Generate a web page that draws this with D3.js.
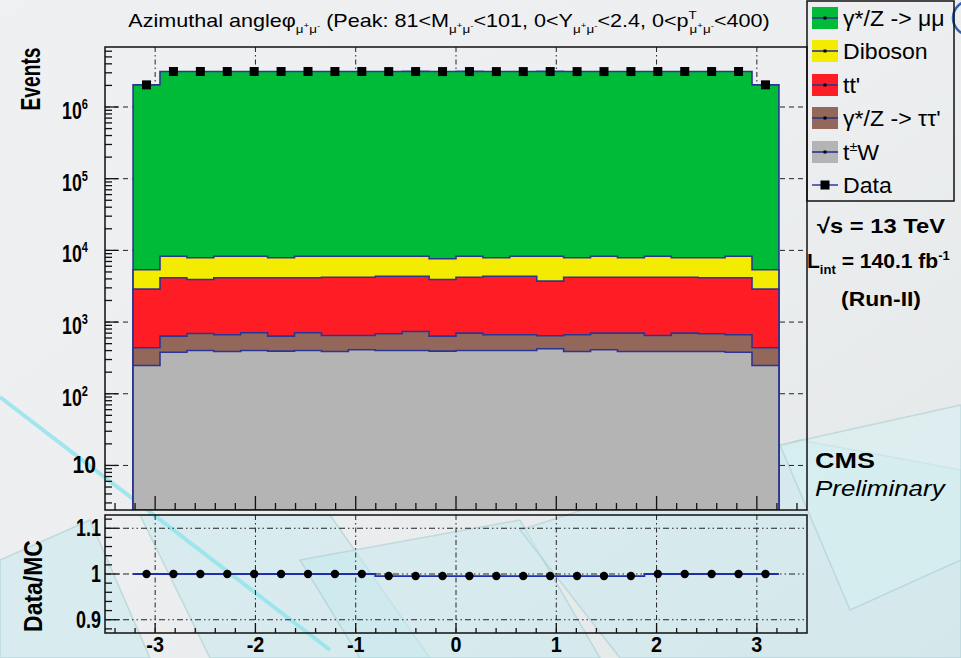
<!DOCTYPE html>
<html>
<head>
<meta charset="utf-8">
<script src="https://cdn.jsdelivr.net/npm/d3@7"></script>
<style>
  html, body { margin: 0; padding: 0; background: #ecedef; }
  svg { display: block; }
</style>
</head>
<body>
<script>
// ---- Data: dimuon azimuthal angle, stacked MC + data, 24 bins ----
const phiRange = [-3.22, 3.22];
const nBins = 24;

const tW = [248, 380, 402, 389, 402, 393, 402, 389, 411, 402, 402, 393,
            402, 402, 402, 424, 389, 411, 389, 389, 389, 389, 380, 248];
const zTauTau = [190, 256, 292, 276, 307, 243, 307, 261, 239, 285, 337, 243,
                 298, 263, 263, 220, 276, 289, 311, 261, 311, 298, 285, 190];
const ttbar = [2439, 3514, 3233, 3485, 3441, 3514, 3441, 3578, 3578, 3678, 3626, 3291,
               3528, 3700, 3700, 3076, 3563, 3528, 3528, 3578, 3528, 3463, 3485, 2439];
const diboson = [2483, 4150, 3963, 4150, 4150, 3740, 4150, 4072, 4072, 3935, 3935, 3713,
                 4072, 3525, 3935, 4580, 3662, 4072, 3662, 4072, 3662, 3740, 4150, 2483];
const zMuMu = [2030000, 3118000, 3121000, 3116000, 3120000, 3119000, 3122000, 3117000,
               3121000, 3125000, 3128000, 3126000, 3127000, 3124000, 3126000, 3128000,
               3125000, 3123000, 3127000, 3118000, 3120000, 3117000, 3119000, 2032000];
const dataEvents = [2035400, 3126300, 3128900, 3124300, 3128300, 3126900, 3130300, 3125300,
                    3129300, 3119200, 3122200, 3119500, 3121200, 3117800, 3120200, 3122200,
                    3118800, 3117200, 3120800, 3126300, 3127900, 3124900, 3127300, 2037400];

const legendLabels = ["γ*/Z -> μμ", "Diboson", "tt'", "γ*/Z -> ττ'", "tW", "Data"];
const xTickValues = [-3, -2, -1, 0, 1, 2, 3];
const ratioTickValues = [0.9, 1, 1.1];
const logDecades = [1, 2, 3, 4, 5, 6];

// ---- Layout ----
const W = 961, H = 658;
const FONT = "'Liberation Sans', Arial, Helvetica, sans-serif";
const frame = { left: 105, right: 807, top: 47, bottom: 510 };
const rframe = { left: 105, right: 807, top: 515, bottom: 633 };
const C = {
  zmumu: "#00bb38", diboson: "#f4ec00", ttbar: "#fe1d24",
  ztautau: "#93685a", tw: "#b4b4b4", outline: "#2b3593"
};

const svg = d3.select("body").append("svg").attr("width", W).attr("height", H);

// ---- Backdrop ----
const defs = svg.append("defs");
const bgGrad = defs.append("linearGradient").attr("id", "bg")
  .attr("x1", 0).attr("y1", 0).attr("x2", 1).attr("y2", 1);
bgGrad.append("stop").attr("offset", 0).attr("stop-color", "#eef0f1");
bgGrad.append("stop").attr("offset", 0.5).attr("stop-color", "#eceeef");
bgGrad.append("stop").attr("offset", 1).attr("stop-color", "#e3e7e8");
svg.append("rect").attr("width", W).attr("height", H).attr("fill", "url(#bg)");

const deco = svg.append("g");
const panels = [
  [[140, 515], [330, 515], [430, 658], [210, 658]],
  [[300, 560], [520, 520], [600, 658], [360, 658]],
  [[520, 530], [800, 440], [961, 470], [961, 658], [620, 658]],
  [[780, 445], [961, 405], [961, 560], [850, 610]],
  [[0, 560], [90, 520], [150, 658], [0, 658]]
];
panels.forEach((p, i) => {
  deco.append("path").attr("d", d3.line()(p) + "Z")
    .attr("fill", i === 3 ? "#d7f1f3" : "#c9eaee").attr("fill-opacity", 0.55)
    .attr("stroke", "#a9cdd1").attr("stroke-opacity", 0.6).attr("stroke-width", 1.5);
});
deco.append("line").attr("x1", 0).attr("y1", 397).attr("x2", 330).attr("y2", 650)
  .attr("stroke", "#8fe3ec").attr("stroke-width", 4).attr("stroke-opacity", 0.8);
deco.append("circle").attr("cx", 970).attr("cy", 18).attr("r", 17)
  .attr("fill", "none").attr("stroke", "#2d63b0").attr("stroke-width", 2.5);

// ---- Scales ----
const x = d3.scaleLinear().domain([-3.5, 3.5]).range([frame.left, frame.right]);
const y = d3.scaleLog().domain([2.39, 6.87e6]).range([frame.bottom, frame.top]);
const yr = d3.scaleLinear().domain([0.871, 1.129]).range([rframe.bottom, rframe.top]);

const binW = (phiRange[1] - phiRange[0]) / nBins;
const edges = d3.range(nBins + 1).map(i => phiRange[0] + i * binW);
const centers = d3.range(nBins).map(i => phiRange[0] + (i + 0.5) * binW);

// stack order bottom -> top
const layers = [
  { key: "tw", vals: tW },
  { key: "ztautau", vals: zTauTau },
  { key: "ttbar", vals: ttbar },
  { key: "diboson", vals: diboson },
  { key: "zmumu", vals: zMuMu }
];
let run = new Array(nBins).fill(0);
layers.forEach(l => {
  run = run.map((v, i) => v + l.vals[i]);
  l.cum = run.slice();
});
const mcTotal = layers[layers.length - 1].cum;
const ratio = dataEvents.map((d, i) => d / mcTotal[i]);

// ---- Text helper (supports sub/superscript runs) ----
function richText(parent, px, py, runs, o) {
  const g = parent.append("g");
  const t = g.append("text")
    .attr("text-anchor", o.anchor || "start")
    .style("font-family", FONT)
    .style("font-size", o.size + "px")
    .style("font-weight", o.weight || "normal")
    .style("font-style", o.style || "normal")
    .attr("fill", "#000");
  const S = o.size;
  const lv = {
    n: [0, 1], s: [0.32, 0.62], ss: [0.08, 0.45], p: [-0.42, 0.62]
  };
  let cur = 0;
  runs.forEach(r => {
    const [off, sc] = lv[r[1] || "n"];
    const ts = t.append("tspan").attr("dy", (off - cur) * S)
      .style("font-size", (S * sc) + "px").text(r[0]);
    if (r[2]) ts.attr("dx", r[2]);
    cur = off;
  });
  let sx = o.sx || 1;
  if (o.fitW) sx = o.fitW / t.node().getBBox().width;
  g.attr("transform", `translate(${px},${py}) rotate(${o.rotate || 0}) scale(${sx},1)`);
  return t;
}

// ---- Main panel ----
const main = svg.append("g");
defs.append("clipPath").attr("id", "clipMain").append("rect")
  .attr("x", frame.left).attr("y", frame.top)
  .attr("width", frame.right - frame.left).attr("height", frame.bottom - frame.top);

// grid
const grid = main.append("g").attr("stroke", "#222").attr("stroke-width", 1);
xTickValues.forEach(v => grid.append("line")
  .attr("x1", x(v)).attr("x2", x(v)).attr("y1", frame.top).attr("y2", frame.bottom)
  .attr("stroke-dasharray", "5,3,1.5,3"));
logDecades.forEach(n => grid.append("line")
  .attr("x1", frame.left).attr("x2", frame.right)
  .attr("y1", y(Math.pow(10, n))).attr("y2", y(Math.pow(10, n)))
  .attr("stroke-dasharray", "5,4"));

// stacked histograms, drawn top of stack first
const stepArea = d3.area()
  .x(d => x(d[0])).y0(frame.bottom).y1(d => y(d[1]))
  .curve(d3.curveStepAfter);
const histG = main.append("g").attr("clip-path", "url(#clipMain)");
layers.slice().reverse().forEach(l => {
  const pts = edges.map((e, i) => [e, l.cum[Math.min(i, nBins - 1)]]);
  histG.append("path").attr("d", stepArea(pts))
    .attr("fill", C[l.key]).attr("stroke", C.outline).attr("stroke-width", 1.6);
});

// data markers
histG.selectAll("rect.data").data(dataEvents).join("rect")
  .attr("x", (d, i) => x(centers[i]) - 4.5).attr("y", d => y(d) - 4.5)
  .attr("width", 9).attr("height", 9).attr("fill", "#000");

// frame
main.append("rect").attr("x", frame.left).attr("y", frame.top)
  .attr("width", frame.right - frame.left).attr("height", frame.bottom - frame.top)
  .attr("fill", "none").attr("stroke", "#111").attr("stroke-width", 1.5);

// y ticks (log)
const yt = main.append("g").attr("stroke", "#111").attr("stroke-width", 1.3);
for (let n = 0; n <= 6; n++) {
  for (let k = 1; k <= 9; k++) {
    const v = k * Math.pow(10, n);
    if (v < y.domain()[0] || v > y.domain()[1]) continue;
    const len = k === 1 ? 13 : 7;
    yt.append("line").attr("x1", frame.left).attr("x2", frame.left + len)
      .attr("y1", y(v)).attr("y2", y(v));
  }
}
// x ticks (main)
const xt = main.append("g").attr("stroke", "#111").attr("stroke-width", 1.3);
for (let v = -3.4; v <= 3.41; v += 0.2) {
  const vv = Math.round(v * 10) / 10;
  const major = Math.abs(vv - Math.round(vv)) < 1e-6;
  xt.append("line").attr("x1", x(vv)).attr("x2", x(vv))
    .attr("y1", frame.bottom).attr("y2", frame.bottom - (major ? 14 : 7));
}

// y tick labels
logDecades.forEach(n => {
  const yy = y(Math.pow(10, n));
  if (n === 1) {
    richText(svg, 96, yy + 8, [["10"]], { size: 23, weight: "bold", anchor: "end", sx: 0.92 });
  } else {
    richText(svg, 88, yy + 12, [["10"], [String(n), "p"]],
      { size: 24, weight: "bold", anchor: "end", sx: 0.74 });
  }
});

richText(svg, 40, 79, [["Events"]], { size: 27, weight: "bold", anchor: "middle", rotate: -90, fitW: 63 });

// ---- Ratio panel ----
const rp = svg.append("g");
const rgrid = rp.append("g").attr("stroke", "#222").attr("stroke-width", 1);
ratioTickValues.forEach(v => rgrid.append("line")
  .attr("x1", rframe.left).attr("x2", rframe.right).attr("y1", yr(v)).attr("y2", yr(v))
  .attr("stroke-dasharray", "6,3,1.5,3,1.5,3"));
xTickValues.forEach(v => rgrid.append("line")
  .attr("x1", x(v)).attr("x2", x(v)).attr("y1", rframe.top).attr("y2", rframe.bottom)
  .attr("stroke-dasharray", "5,3,1.5,3"));

const ratioPts = edges.map((e, i) => [e, ratio[Math.min(i, nBins - 1)]]);
rp.append("path")
  .attr("d", d3.line().x(d => x(d[0])).y(d => yr(d[1])).curve(d3.curveStepAfter)(ratioPts))
  .attr("fill", "none").attr("stroke", "#1f2fa8").attr("stroke-width", 1.8);
rp.selectAll("circle.r").data(ratio).join("circle")
  .attr("cx", (d, i) => x(centers[i])).attr("cy", d => yr(d)).attr("r", 4.2).attr("fill", "#000");

rp.append("rect").attr("x", rframe.left).attr("y", rframe.top)
  .attr("width", rframe.right - rframe.left).attr("height", rframe.bottom - rframe.top)
  .attr("fill", "none").attr("stroke", "#111").attr("stroke-width", 1.5);

const rt = rp.append("g").attr("stroke", "#111").attr("stroke-width", 1.3);
for (let v = 0.88; v <= 1.121; v += 0.02) {
  const vv = Math.round(v * 100) / 100;
  const major = Math.abs(vv * 10 - Math.round(vv * 10)) < 1e-6;
  rt.append("line").attr("x1", rframe.left).attr("x2", rframe.left + (major ? 14 : 7))
    .attr("y1", yr(vv)).attr("y2", yr(vv));
}
for (let v = -3.4; v <= 3.41; v += 0.2) {
  const vv = Math.round(v * 10) / 10;
  const major = Math.abs(vv - Math.round(vv)) < 1e-6;
  rt.append("line").attr("x1", x(vv)).attr("x2", x(vv))
    .attr("y1", rframe.bottom).attr("y2", rframe.bottom - (major ? 10 : 5));
}

ratioTickValues.forEach(v => {
  richText(svg, 101, yr(v) + 8, [[String(v)]], { size: 23, weight: "bold", anchor: "end", sx: 0.78 });
});
xTickValues.forEach(v => {
  richText(svg, x(v), 652, [[v < 0 ? "-" + Math.abs(v) : String(v)]],
    { size: 22, weight: "bold", anchor: "middle", sx: 0.9 });
});
richText(svg, 42, 586, [["Data/MC"]], { size: 26, weight: "bold", anchor: "middle", rotate: -90, fitW: 92 });

// ---- Title ----
const mm = [["μ", "s"], ["+", "ss"], ["μ", "s"], ["-", "ss"]];
richText(svg, 449, 27, [
  ["Azimuthal angleφ"], ...mm, [" (Peak: 81<M"], ...mm, ["<101, 0<Y"], ...mm,
  ["<2.4, 0<p"], ["T", "p"], ["μ", "s", -6], ["+", "ss"], ["μ", "s"], ["-", "ss"], ["<400)"]
], { size: 18, anchor: "middle", fitW: 642 });

// ---- Legend ----
const leg = svg.append("g");
leg.append("rect").attr("x", 807).attr("y", 1).attr("width", 147).attr("height", 200)
  .attr("fill", "none").attr("stroke", "#111").attr("stroke-width", 1.5);
const legKeys = ["zmumu", "diboson", "ttbar", "ztautau", "tw", "data"];
const legY = [18, 51, 85, 118, 152, 185];
legKeys.forEach((k, i) => {
  const cy = legY[i];
  if (k !== "data") {
    leg.append("rect").attr("x", 812).attr("y", cy - 11).attr("width", 26).attr("height", 22)
      .attr("fill", C[k]);
    leg.append("line").attr("x1", 812).attr("x2", 838).attr("y1", cy).attr("y2", cy)
      .attr("stroke", C.outline).attr("stroke-width", 1.6);
    leg.append("rect").attr("x", 823.5).attr("y", cy - 1.5).attr("width", 3).attr("height", 3).attr("fill", "#000");
  } else {
    leg.append("line").attr("x1", 812).attr("x2", 838).attr("y1", cy).attr("y2", cy)
      .attr("stroke", "#3a47b0").attr("stroke-width", 1.6);
    leg.append("rect").attr("x", 820.5).attr("y", cy - 4.5).attr("width", 9).attr("height", 9).attr("fill", "#000");
  }
  const runs = k === "tw" ? [["t"], ["±", "p"], ["W", "n"]] : [[legendLabels[i]]];
  richText(leg, 843, cy + 8, runs, { size: 22, sx: 1.05 });
});

// ---- Annotations ----
richText(svg, 881, 233, [["√s = 13 TeV"]], { size: 21, weight: "bold", anchor: "middle", fitW: 128 });
richText(svg, 807, 268, [["L"], ["int", "s"], [" = 140.1 fb"], ["-1", "p"]],
  { size: 20, weight: "bold", fitW: 143 });
richText(svg, 881, 306, [["(Run-II)"]], { size: 21, weight: "bold", anchor: "middle", fitW: 80 });
richText(svg, 815, 468, [["CMS"]], { size: 22, weight: "bold", fitW: 60 });
richText(svg, 815, 496, [["Preliminary"]], { size: 22, style: "italic", fitW: 132 });
</script>
</body>
</html>
